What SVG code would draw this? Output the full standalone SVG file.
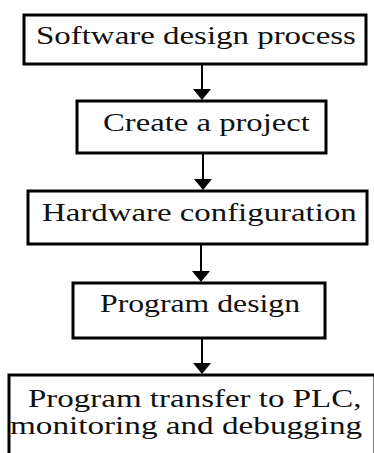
<svg xmlns="http://www.w3.org/2000/svg" width="374" height="453" viewBox="0 0 374 453">
<style>
.box{fill:#fff;stroke:#000;stroke-width:3}
.lbl{font-family:'Liberation Serif','Times New Roman',serif;font-size:25px;fill:#111}
.con{stroke:#000;stroke-width:2;fill:none}
.head{fill:#000}
</style>
<rect width="374" height="453" fill="#fff"/>
<g id="n1"><rect class="box" x="24" y="15" width="342" height="49"/><text class="lbl" transform="translate(36,44) scale(1.317,1)">Software design process</text></g>
<g id="n2"><rect class="box" x="77" y="101" width="249" height="52"/><text class="lbl" transform="translate(103,131) scale(1.308,1)">Create a project</text></g>
<g id="n3"><rect class="box" x="28" y="191" width="339" height="53"/><text class="lbl" transform="translate(42,221) scale(1.315,1)">Hardware configuration</text></g>
<g id="n4"><rect class="box" x="73" y="283" width="252" height="55"/><text class="lbl" transform="translate(100,312) scale(1.27,1)">Program design</text></g>
<g id="n5"><rect class="box" x="9" y="375" width="366" height="90"/><text class="lbl" transform="translate(28,407) scale(1.32,1)">Program transfer to PLC,</text><text class="lbl" transform="translate(10,434) scale(1.328,1)">monitoring and debugging</text></g>
<g id="connectors">
<line class="con" x1="202" y1="65" x2="202" y2="90"/><polygon class="head" points="193,89 211,89 202,100"/>
<line class="con" x1="203" y1="154" x2="203" y2="180"/><polygon class="head" points="194,179 212,179 203,190"/>
<line class="con" x1="201" y1="245" x2="201" y2="272"/><polygon class="head" points="192,271 210,271 201,282"/>
<line class="con" x1="202" y1="339" x2="202" y2="364"/><polygon class="head" points="193,363 211,363 202,374"/>
</g>
</svg>
